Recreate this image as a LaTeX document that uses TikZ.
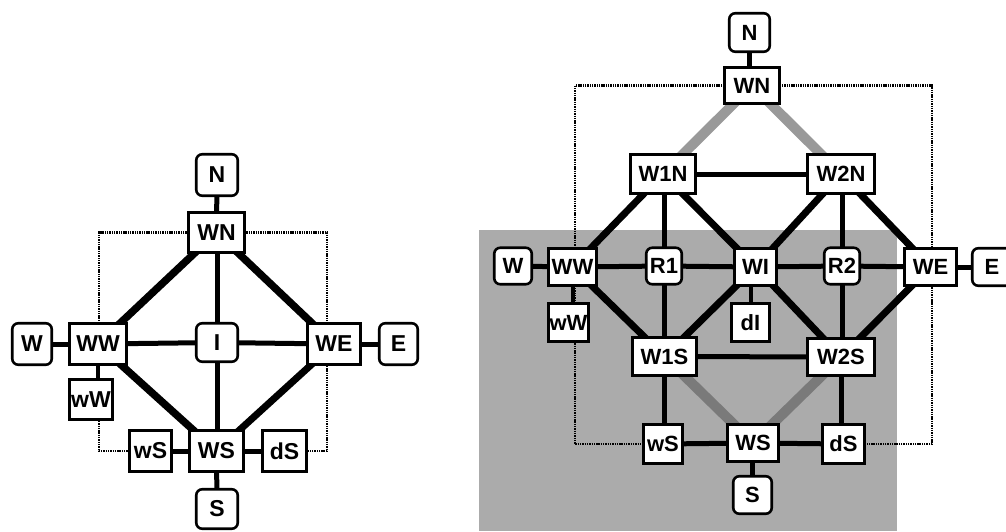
\documentclass[tikz,border=0pt]{standalone}
\usepackage{fontspec}
\setmainfont{Liberation Sans}
\usetikzlibrary{calc}
\pgfdeclarelayer{shadelayer}
\pgfdeclarelayer{edgelayer}
\pgfsetlayers{shadelayer,edgelayer,main}
\begin{document}
\begin{tikzpicture}[x=1pt,y=-1pt,
  box/.style={draw,line width=2.6pt,fill=white,inner sep=0pt,font=\fontsize{23}{23}\selectfont\bfseries},
  rbox/.style={box,rounded corners=6pt},
  rf/.style={font=\fontsize{22}{22}\selectfont\bfseries},
  lk/.style={line width=5pt},
  lkthin/.style={line width=4pt},
  hv/.style={line width=7.5pt},
  hvr/.style={line width=7pt},
  band/.style={line width=10pt,draw=black!40},
  bandlow/.style={line width=10pt,draw=black!52},
  dotline/.style={line width=2.2pt,dash pattern=on 1.4pt off 0.9pt},
  shade/.style={fill=black!33}
]
\useasboundingbox (0,0) rectangle (1006,531);

% ---------------- left diagram ----------------
\node[rbox,minimum width=41.5pt,minimum height=41.5pt] (lN) at (217,175) {N};
\node[box,minimum width=56.5pt,minimum height=40.5pt] (lWN) at (216.5,232.5) {WN};
\node[rbox,minimum width=39.5pt,minimum height=41.5pt] (lW) at (32,344) {W};
\node[box,minimum width=57.5pt,minimum height=41.5pt] (lWW) at (98,344) {WW};
\node[rbox,minimum width=41.5pt,minimum height=38.5pt] (lI) at (217,342.5) {I};
\node[box,minimum width=53.5pt,minimum height=41.5pt] (lWE) at (334,344) {WE};
\node[rbox,minimum width=38.5pt,minimum height=41.5pt] (lE) at (398.5,344) {E};
\node[box,minimum width=43.5pt,minimum height=40.5pt] (lwW) at (91,399.5) {wW};
\node[box,minimum width=42.5pt,minimum height=41.5pt] (lwS) at (150.5,451) {wS};
\node[box,minimum width=54.5pt,minimum height=41.5pt] (lWS) at (216.5,451) {WS};
\node[box,minimum width=44.5pt,minimum height=41.5pt] (ldS) at (284.5,451) {dS};
\node[rbox,minimum width=41.5pt,minimum height=39.5pt] (lS) at (217,509) {S};
\coordinate (ldl) at (99,300);
\coordinate (ldr) at (327,300);

% ---------------- right diagram ----------------
\node[rbox,rf,minimum width=40.5pt,minimum height=38.5pt] (rN) at (749.5,32.5) {N};
\node[box,rf,minimum width=55.5pt,minimum height=36.5pt] (rWN) at (752,85.5) {WN};
\node[box,rf,minimum width=65.5pt,minimum height=39.5pt] (rW1N) at (663,174) {W1N};
\node[box,rf,minimum width=67.5pt,minimum height=38.5pt] (rW2N) at (841,174) {W2N};
\node[rbox,rf,minimum width=37.5pt,minimum height=36.5pt] (rW) at (513,266) {W};
\node[box,rf,minimum width=48.5pt,minimum height=37.5pt] (rWW) at (572.5,267) {WW};
\node[rbox,rf,minimum width=35.5pt,minimum height=36.5pt] (rR1) at (664,266) {R1};
\node[box,rf,minimum width=42.5pt,minimum height=37.5pt] (rWI) at (755.5,267) {WI};
\node[rbox,rf,minimum width=35.5pt,minimum height=36.5pt] (rR2) at (842,266) {R2};
\node[box,rf,minimum width=52.5pt,minimum height=37.5pt] (rWE) at (930.5,267) {WE};
\node[rbox,rf,minimum width=39.5pt,minimum height=37.5pt] (rE) at (992,267) {E};
\node[box,rf,minimum width=40.5pt,minimum height=38.5pt] (rwW) at (568.5,322.5) {wW};
\node[box,rf,minimum width=38.5pt,minimum height=38.5pt] (rdI) at (750.5,322.5) {dI};
\node[box,rf,minimum width=64.5pt,minimum height=38.5pt] (rW1S) at (664.5,356.5) {W1S};
\node[box,rf,minimum width=67.5pt,minimum height=37.5pt] (rW2S) at (841,357) {W2S};
\node[box,rf,minimum width=39.5pt,minimum height=39.5pt] (rwS) at (663,444) {wS};
\node[box,rf,minimum width=51.5pt,minimum height=37.5pt] (rWS) at (753,443) {WS};
\node[box,rf,minimum width=42.5pt,minimum height=39.5pt] (rdS) at (843.5,444) {dS};
\node[rbox,rf,minimum width=38.5pt,minimum height=37.5pt] (rS) at (752.5,495) {S};
\coordinate (rdl) at (575,300);
\coordinate (rdr) at (932,300);

\begin{pgfonlayer}{shadelayer}
  \fill[shade] (479,230) rectangle (897,531);
\end{pgfonlayer}

\begin{pgfonlayer}{edgelayer}
  % left
  \draw[dotline] (lWN.center) -| (ldl) |- (lwS.center);
  \draw[dotline] (lWN.center) -| (ldr) |- (ldS.center);
  \draw[lk] (lN.center) -- (lWN.center);
  \draw[hv] (lWN.center) -- (lWW.center);
  \draw[hv] (lWN.center) -- (lWE.center);
  \draw[hv] (lWW.center) -- (lWS.center);
  \draw[hvr] (lWE.center) -- (lWS.center);
  \draw[lk] (lI.center) -- (lI.center |- lWN.center);
  \draw[lk] (lI.center) -- (lI.center |- lWS.center);
  \draw[lk] (lWW.center) -- (lI.center);
  \draw[lk] (lI.center) -- (lWE.center);
  \draw[lk] (lW.center) -- (lWW.center);
  \draw[lk] (lWE.center) -- (lE.center);
  \draw[lkthin] (lWW.center) -- (lWW.center |- lwW.center);
  \draw[lk] (lwS.center) -- (lWS.center);
  \draw[lk] (lWS.center) -- (ldS.center);
  \draw[lk] (lWS.center) -- (lS.center);
  % right
  \draw[dotline] (rWN.center) -| (rdl) |- (rwS.center);
  \draw[dotline] (rWN.center) -| (rdr) |- (rdS.center);
  \draw[band] (rWN.center) -- (rW1N.center);
  \draw[band] (rWN.center) -- (rW2N.center);
  \draw[bandlow] (rW1S.center) -- (rWS.center);
  \draw[bandlow] (rW2S.center) -- (rWS.center);
  \draw[lk] (rN.center) -- (rN.center |- rWN.center);
  \draw[lk] (rW1N.center) -- (rW2N.center);
  \draw[hvr] (rW1N.center) -- (rWW.center);
  \draw[lk] (rR1.center) -- (rR1.center |- rW1N.center);
  \draw[hvr] (rW1N.center) -- (rWI.center);
  \draw[hvr] (rW2N.center) -- (rWI.center);
  \draw[lk] (rR2.center) -- (rR2.center |- rW2N.center);
  \draw[hvr] (rW2N.center) -- (rWE.center);
  \draw[lk] (rW.center) -- (rWW.center);
  \draw[lk] (rWW.center) -- (rR1.center);
  \draw[lk] (rR1.center) -- (rWI.center);
  \draw[lk] (rWI.center) -- (rR2.center);
  \draw[lk] (rR2.center) -- (rWE.center);
  \draw[lk] (rWE.center) -- (rE.center);
  \draw[lkthin] (rWW.center) -- (rWW.center |- rwW.center);
  \draw[hvr] (rWW.center) -- (rW1S.center);
  \draw[hvr] (rWI.center) -- (rW1S.center);
  \draw[lkthin] (rdI.center) -- (rdI.center |- rWI.center);
  \draw[hvr] (rWI.center) -- (rW2S.center);
  \draw[hvr] (rWE.center) -- (rW2S.center);
  \draw[lk] (rR1.center) -- (rR1.center |- rW1S.center);
  \draw[lk] (rR2.center) -- (rR2.center |- rW2S.center);
  \draw[lk] (rW1S.center) -- (rW2S.center);
  \draw[lk] (rW1S.center) -- (rW1S.center |- rwS.center);
  \draw[lk] (rW2S.center) -- (rW2S.center |- rdS.center);
  \draw[lk] (rwS.center) -- (rWS.center);
  \draw[lk] (rWS.center) -- (rdS.center);
  \draw[lk] (rS.center) -- (rS.center |- rWS.center);
\end{pgfonlayer}
\end{tikzpicture}
\end{document}
